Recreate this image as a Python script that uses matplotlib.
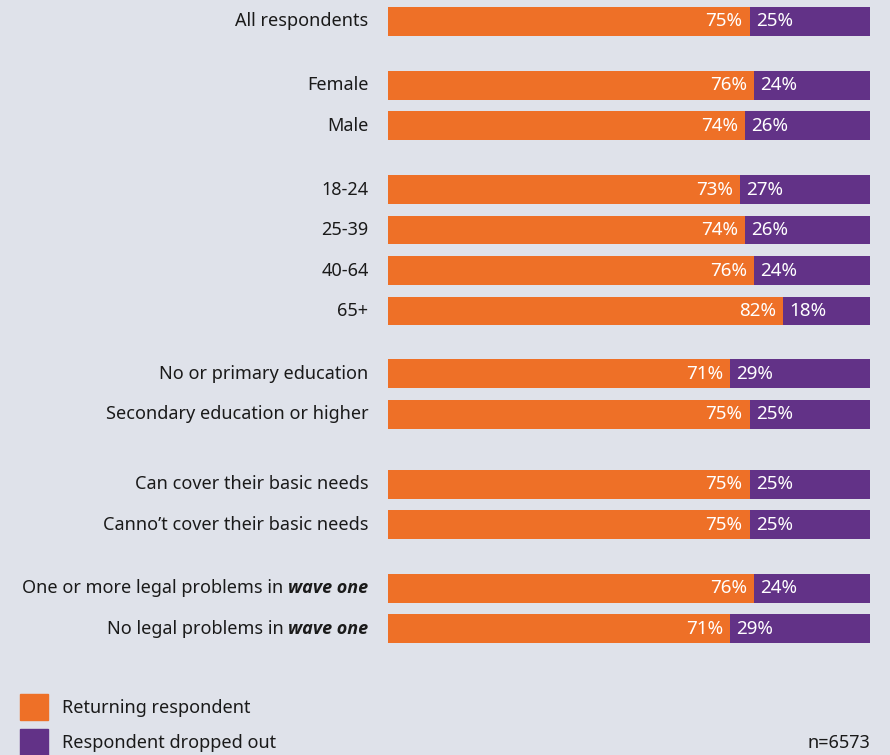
import matplotlib.pyplot as plt
from matplotlib.patches import Patch

plt.rcParams['font.family'] = ['Noto Sans', 'DejaVu Sans']

# rows grouped as they appear, top to bottom; second item is a bold italic tail
groups = [
    [("All respondents", "")],
    [("Female", ""), ("Male", "")],
    [("18-24", ""), ("25-39", ""), ("40-64", ""), ("65+", "")],
    [("No or primary education", ""), ("Secondary education or higher", "")],
    [("Can cover their basic needs", ""), ("Canno\u2019t cover their basic needs", "")],
    [("One or more legal problems in", "wave one"), ("No legal problems in", "wave one")],
]

returning = [75, 76, 74, 73, 74, 76, 82, 71, 75, 75, 75, 76, 71]
dropped = [25, 24, 26, 27, 26, 24, 18, 29, 25, 25, 25, 24, 29]

orange = '#ee7027'
purple = '#623287'
bg = '#dfe2ea'
txt = '#1a1a1a'

# extra space before each group (in row units)
group_gaps = [0, 0.58, 0.58, 0.55, 0.73, 0.57]
labels, ypos = [], []
y = 0.0
for gap, g in zip(group_gaps, groups):
    y += gap
    for lab in g:
        labels.append(lab)
        ypos.append(y)
        y += 1

fig = plt.figure(figsize=(8.9, 7.55), dpi=100, facecolor=bg)
ax = fig.add_axes([388 / 890, 1 - 649 / 755, 482 / 890, 648 / 755])
ax.set_facecolor(bg)

bar_h = 0.71
ax.barh(ypos, returning, height=bar_h, color=orange, label='Returning respondent')
ax.barh(ypos, dropped, left=returning, height=bar_h, color=purple,
        label='Respondent dropped out')

ax.set_xlim(0, 100)
ax.set_ylim(ypos[-1] + 0.5, -0.5)
ax.axis('off')

fs = 13
vfs = 13.5
for yy, r, d in zip(ypos, returning, dropped):
    ax.annotate(f"{r}%", xy=(r, yy), xytext=(-5, 0), textcoords='offset points',
                ha='right', va='center', color='white', fontsize=vfs)
    ax.annotate(f"{d}%", xy=(r, yy), xytext=(4.5, 0), textcoords='offset points',
                ha='left', va='center', color='white', fontsize=vfs)

# category labels
for yy, (plain, emph) in zip(ypos, labels):
    if emph:
        t2 = ax.annotate(emph, xy=(0, yy), xytext=(-14, 0), textcoords='offset points',
                         ha='right', va='center', fontsize=fs, color=txt,
                         family=['Open Sans', 'DejaVu Sans'],
                         fontweight='bold', fontstyle='italic')
        ax.annotate(plain, xy=(0, 0.5), xycoords=t2, xytext=(-3.5, 0),
                    textcoords='offset points', ha='right', va='center',
                    fontsize=fs, color=txt)
    else:
        ax.annotate(plain, xy=(0, yy), xytext=(-14, 0), textcoords='offset points',
                    ha='right', va='center', fontsize=fs, color=txt)

handles = [Patch(color=orange), Patch(color=purple)]
fig.legend(handles, ['Returning respondent', 'Respondent dropped out'],
           loc='upper left', bbox_to_anchor=(20 / 890, 1 - 694 / 755),
           frameon=False, fontsize=fs, handlelength=1.55, handleheight=1.85,
           labelspacing=0.5, handletextpad=0.78, borderpad=0, borderaxespad=0,
           labelcolor=txt)

fig.text(870 / 890, 1 - 743 / 755, "n=6573", ha='right', va='center',
         fontsize=fs, color=txt)

fig.savefig('out.png', dpi=100, facecolor=bg)
